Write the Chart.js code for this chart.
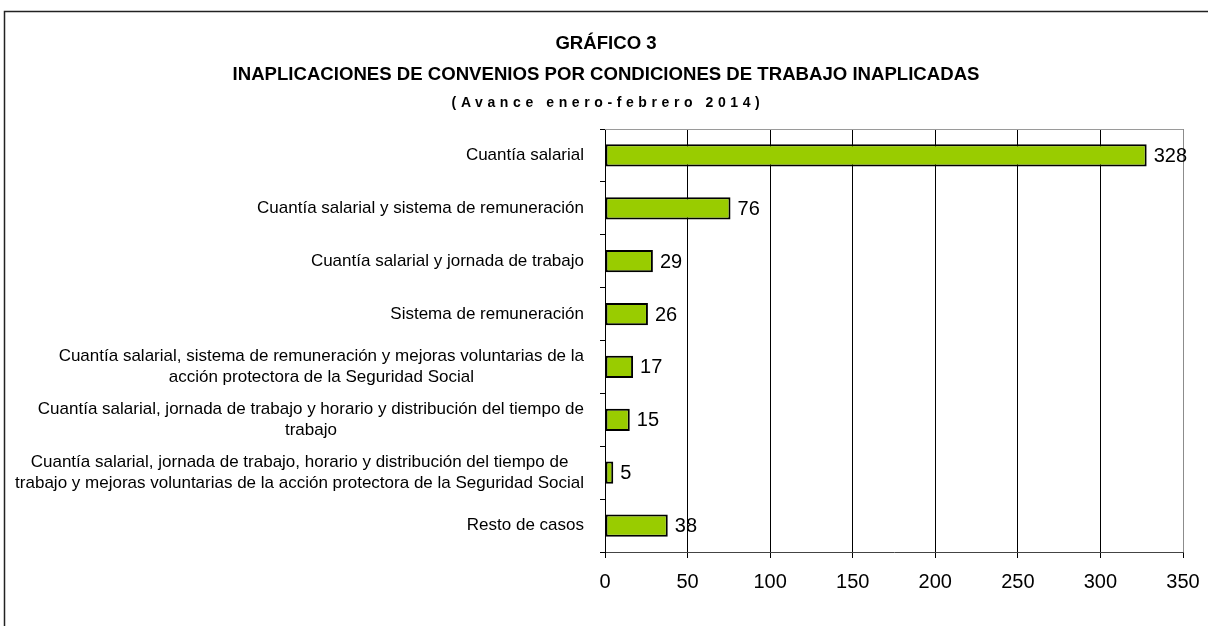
<!DOCTYPE html>
<html><head><meta charset="utf-8">
<script src="https://cdn.jsdelivr.net/npm/chart.js@4.4.1/dist/chart.umd.min.js"></script>
<style>html,body{margin:0;padding:0;background:#fff}</style>
</head><body>
<canvas id="c" width="1208" height="626"></canvas>
<script>
const titleLine1 = "GRÁFICO 3";
const titleLine2 = "INAPLICACIONES DE CONVENIOS POR CONDICIONES DE TRABAJO INAPLICADAS";
const subtitleText = "(Avance enero-febrero 2014)";
const categories = [
  "Cuantía salarial",
  "Cuantía salarial y sistema de remuneración",
  "Cuantía salarial y jornada de trabajo",
  "Sistema de remuneración",
  ["Cuantía salarial, sistema de remuneración y mejoras voluntarias de la", "acción protectora de la Seguridad Social"],
  ["Cuantía salarial, jornada de trabajo y horario y distribución del tiempo de", "trabajo"],
  ["Cuantía salarial, jornada de trabajo, horario y distribución del tiempo de", "trabajo y mejoras voluntarias de la acción protectora de la Seguridad Social"],
  "Resto de casos"
];
const values = [328, 76, 29, 26, 17, 15, 5, 38];
const xTicks = [0, 50, 100, 150, 200, 250, 300, 350];

const FONT = 'Arial, "Liberation Sans", sans-serif';

const framePlugin = {
  id: 'frame',
  beforeDraw(chart) {
    const ctx = chart.ctx;
    ctx.save();
    ctx.fillStyle = '#fff';
    ctx.fillRect(0, 0, chart.width, chart.height);
    ctx.strokeStyle = '#222';
    ctx.lineWidth = 1.5;
    ctx.beginPath();
    ctx.moveTo(1208, 11.5);
    ctx.lineTo(4.5, 11.5);
    ctx.lineTo(4.5, 626);
    ctx.stroke();
    ctx.restore();
  },
  afterDraw(chart) {
    const ctx = chart.ctx;
    const a = chart.chartArea;
    ctx.save();
    ctx.strokeStyle = '#9a9a9a';
    ctx.lineWidth = 1;
    ctx.beginPath();
    ctx.moveTo(a.left, a.top + 0.5);
    ctx.lineTo(a.right, a.top + 0.5);
    ctx.stroke();
    ctx.fillStyle = '#000';
    ctx.textAlign = 'center';
    ctx.textBaseline = 'middle';
    ctx.font = 'bold 18.6px ' + FONT;
    ctx.fillText(titleLine1, 606, 44);
    ctx.fillText(titleLine2, 606, 75);
    ctx.font = 'bold 14px ' + FONT;
    ctx.letterSpacing = '4.6px';
    ctx.fillText(subtitleText, 608, 103);
    ctx.letterSpacing = '0px';
    const ys = chart.scales.y;
    const labels = ys.getLabels();
    ctx.font = '17px ' + FONT;
    const lh = 21;
    const right = 584;
    labels.forEach((lab, i) => {
      const lines = Array.isArray(lab) ? lab : [lab];
      const w = Math.max(...lines.map(l => ctx.measureText(l).width));
      const cx = right - w / 2;
      const yc = ys.getPixelForTick(i);
      lines.forEach((l, j) => {
        ctx.fillText(l, cx, yc + (j - (lines.length - 1) / 2) * lh);
      });
    });
    const meta = chart.getDatasetMeta(0);
    ctx.font = '20px ' + FONT;
    ctx.textAlign = 'left';
    meta.data.forEach((bar, i) => {
      ctx.fillText(String(values[i]), bar.x + 7, bar.y + 1);
    });
    ctx.restore();
  }
};

new Chart(document.getElementById('c'), {
  type: 'bar',
  data: {
    labels: categories,
    datasets: [{
      data: values,
      backgroundColor: '#99CC00',
      borderColor: '#000',
      borderWidth: 2,
      borderSkipped: false,
      barPercentage: 0.42,
      categoryPercentage: 1
    }]
  },
  options: {
    indexAxis: 'y',
    responsive: false,
    animation: false,
    devicePixelRatio: 1,
    layout: { padding: { top: 129, right: 25, bottom: 0, left: 0 } },
    plugins: { legend: { display: false }, tooltip: { enabled: false }, title: { display: false } },
    scales: {
      x: {
        type: 'linear',
        position: 'bottom',
        min: 0,
        max: 350,
        afterBuildTicks: s => { s.ticks = xTicks.map(v => ({ value: v })); },
        afterFit: s => { s.height = 74; s.paddingRight = 0; s.paddingLeft = 0; },
        grid: {
          color: c => (c.index === xTicks.length - 1 ? '#8c8c8c' : '#000'),
          lineWidth: 1,
          tickLength: 6,
          tickColor: '#000'
        },
        border: { color: '#444', width: 1 },
        ticks: { font: { family: FONT, size: 20 }, color: '#000', padding: 12, maxRotation: 0 }
      },
      y: {
        afterFit: s => { s.width = 605; },
        grid: { display: true, drawOnChartArea: false, tickLength: 5, color: '#000', offset: true },
        border: { color: '#000', width: 1 },
        ticks: { display: false }
      }
    }
  },
  plugins: [framePlugin]
});
</script>
</body></html>
